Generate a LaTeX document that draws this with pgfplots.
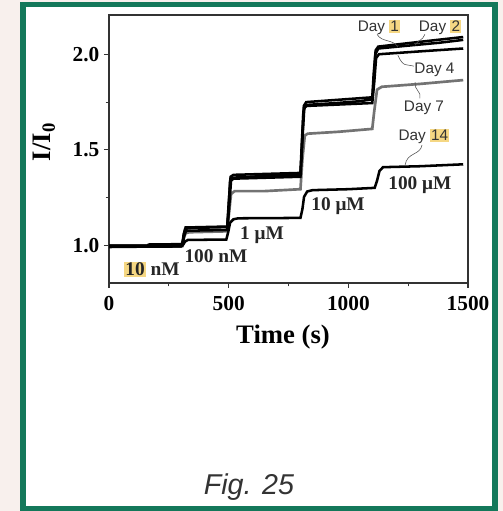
\documentclass[border=0pt]{standalone}
\usepackage{pgfplots}
\pgfplotsset{compat=1.18}
\usepackage{fontspec}
\setmainfont{Liberation Serif}
\newfontfamily\arial{Liberation Sans}
\definecolor{framegreen}{HTML}{14785A}
\definecolor{pagebg}{HTML}{F8F0ED}
\definecolor{hlcol}{HTML}{F5D783}
\definecolor{txt}{HTML}{333333}
\newcommand{\hl}[1]{{\setlength{\fboxsep}{0.8pt}\colorbox{hlcol}{#1}}}
\begin{document}
\begin{tikzpicture}
% page and green frame
\useasboundingbox (0,0) rectangle (377.25pt,383.25pt);
\fill[pagebg] (0,0) rectangle (377.25pt,383.25pt);
\fill[white] (17.4pt,1.9pt) rectangle (371.4pt,379.9pt);
\draw[framegreen, line width=4.1pt] (17.4pt,1.9pt) rectangle (371.4pt,379.9pt);

\begin{axis}[
    at={(81.75pt,171pt)}, anchor=south west,
    scale only axis, width=269.25pt, height=201pt,
    xmin=0, xmax=1500, ymin=0.805, ymax=2.205,
    xtick={0,500,1000,1500}, xticklabels={0,500,1000,1500},
    ytick={1.0,1.5,2.0}, yticklabels={1.0,1.5,2.0},
    minor xtick={250,750,1250}, minor ytick={1.25,1.75},
    tick align=outside, xtick pos=bottom, ytick pos=left,
    major tick length=3.75pt, minor tick length=2.5pt,
    axis line style={draw=black!80, line width=0.8pt},
    every tick/.style={black!80, line width=0.8pt},
    ticklabel style={font=\fontsize{16}{18}\selectfont\bfseries},
    xticklabel style={yshift=-3pt},
    /pgf/number format/assume math mode=true,
]
% Day 7 (grey)
\addplot[black!55, line width=2pt] coordinates {
(0,0.995)(300,0.995)(310,1.03)(320,1.065)(335,1.07)(494,1.075)(500,1.15)(510,1.27)(525,1.285)(650,1.285)(800,1.295)(808,1.45)(818,1.575)(830,1.585)(960,1.595)(1100,1.61)(1108,1.7)(1120,1.815)(1140,1.83)(1300,1.845)(1480,1.865)};
% Day 14
\addplot[black, line width=1.9pt] coordinates {
(0,0.993)(160,0.995)(300,0.996)(310,1.005)(318,1.022)(330,1.03)(490,1.032)(498,1.07)(506,1.12)(520,1.138)(540,1.143)(800,1.145)(808,1.19)(815,1.255)(828,1.283)(850,1.29)(1000,1.295)(1110,1.302)(1120,1.34)(1130,1.39)(1145,1.41)(1300,1.415)(1480,1.425)};
% Day 4
\addplot[black, line width=1.9pt] coordinates {
(0,0.995)(306,0.998)(314,1.05)(322,1.078)(494,1.082)(502,1.2)(510,1.34)(520,1.35)(800,1.36)(808,1.55)(816,1.72)(826,1.73)(1100,1.745)(1108,1.85)(1116,1.98)(1128,2.0)(1300,2.015)(1480,2.03)};
% Day 2
\addplot[black, line width=1.9pt] coordinates {
(0,1.0)(306,1.0)(312,1.06)(320,1.095)(494,1.1)(500,1.22)(508,1.36)(520,1.37)(800,1.38)(806,1.55)(814,1.73)(824,1.75)(1100,1.775)(1106,1.9)(1114,2.02)(1125,2.04)(1300,2.065)(1480,2.09)};
% Day 1
\addplot[black, line width=1.9pt] coordinates {
(0,1.0)(160,1.0)(166,1.006)(306,1.008)(312,1.05)(318,1.085)(330,1.092)(420,1.095)(494,1.097)(500,1.2)(506,1.34)(515,1.355)(620,1.362)(720,1.368)(800,1.372)(806,1.5)(812,1.7)(822,1.735)(950,1.745)(1050,1.755)(1100,1.765)(1106,1.85)(1113,2.0)(1125,2.03)(1250,2.045)(1380,2.06)(1480,2.075)};

% leader lines
\draw[black!70, line width=0.4pt] (axis cs:1120,2.104) .. controls (axis cs:1140,2.06) and (axis cs:1190,2.08) .. (axis cs:1207,2.036);
\draw[black!70, line width=0.4pt] (axis cs:1320,2.104) .. controls (axis cs:1310,2.07) and (axis cs:1290,2.075) .. (axis cs:1279,2.047);
\draw[black!70, line width=0.4pt] (axis cs:1274,1.9375) .. controls (axis cs:1240,1.95) and (axis cs:1230,1.93) .. (axis cs:1207,1.995);
\draw[black!70, line width=0.4pt] (axis cs:1299,1.77) .. controls (axis cs:1310,1.80) and (axis cs:1270,1.82) .. (axis cs:1279,1.854);
\draw[black!70, line width=0.4pt] (axis cs:1308,1.526) .. controls (axis cs:1300,1.47) and (axis cs:1245,1.49) .. (axis cs:1237,1.42);

% day labels
\begin{scope}[every node/.style={font=\arial\fontsize{11.5}{13}\selectfont, text=txt, inner sep=0pt}]
\node at (axis cs:1128,2.14) {Day \hl{1}};
\node at (axis cs:1383,2.14) {Day \hl{2}};
\node at (axis cs:1360,1.917) {Day 4};
\node at (axis cs:1316,1.72) {Day 7};
\node at (axis cs:1316,1.57) {Day \hl{14}};
\end{scope}

% concentration labels
\begin{scope}[every node/.style={font=\fontsize{14.5}{16}\selectfont\bfseries, text=black!85, inner sep=0pt}]
\node at (axis cs:180,0.875) {\hl{10} nM};
\node at (axis cs:447,0.944) {100 nM};
\node at (axis cs:639,1.057) {1 μM};
\node at (axis cs:957,1.205) {10 μM};
\node at (axis cs:1299,1.318) {100 μM};
\end{scope}
\end{axis}

% axis titles
\node[rotate=90, font=\fontsize{20}{22}\selectfont\bfseries] at (33pt,276.75pt) {I/I\textsubscript{0}};
\node[font=\fontsize{20}{22}\selectfont\bfseries] at (212.25pt,130.5pt) {Time (s)};
\node[font=\arial\itshape\fontsize{21.5}{24}\selectfont, text=txt] at (186.75pt,18pt) {Fig. 25};
\end{tikzpicture}
\end{document}
